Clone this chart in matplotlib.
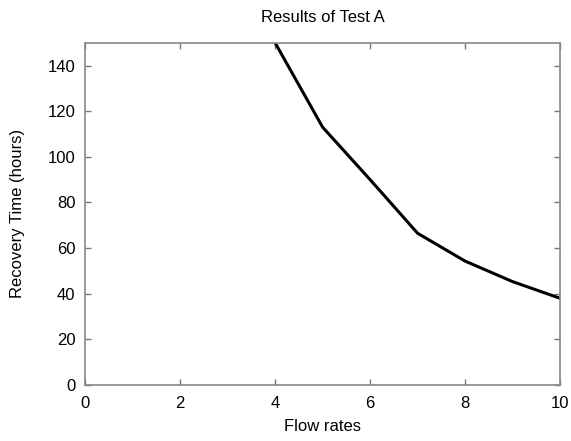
import matplotlib
matplotlib.use("Agg")
import matplotlib.pyplot as plt

flow_rates = [4, 5, 6, 7, 8, 9, 10]
recovery_hours = [150, 113, 90, 66.5, 54.3, 45.3, 38]
x_ticks = [0, 2, 4, 6, 8, 10]
y_ticks = [0, 20, 40, 60, 80, 100, 120, 140]

plt.rcParams['font.family'] = ['Liberation Sans', 'DejaVu Sans']
fig = plt.figure(figsize=(5.71, 4.41), dpi=100)
ax = fig.add_axes([0.149, 0.127, 0.832, 0.776])
ax.plot(flow_rates, recovery_hours, color='black', linewidth=2.2, clip_on=True)
ax.set_xlim(0, 10)
ax.set_ylim(0, 150)
ax.set_xticks(x_ticks)
ax.set_yticks(y_ticks)
ax.tick_params(direction='in', top=True, right=True, length=4, width=1, color='#777777', labelsize=12)
ax.tick_params(axis='x', pad=8)
ax.tick_params(axis='y', pad=7)
for s in ax.spines.values():
    s.set_color('#888888')
    s.set_linewidth(1.2)
ax.set_xlabel('Flow rates', fontsize=12, labelpad=6)
ax.set_ylabel('Recovery Time (hours)', fontsize=12, labelpad=16)
ax.set_title('Results of Test A', fontsize=12, pad=15)
fig.savefig('out.png', dpi=100)
